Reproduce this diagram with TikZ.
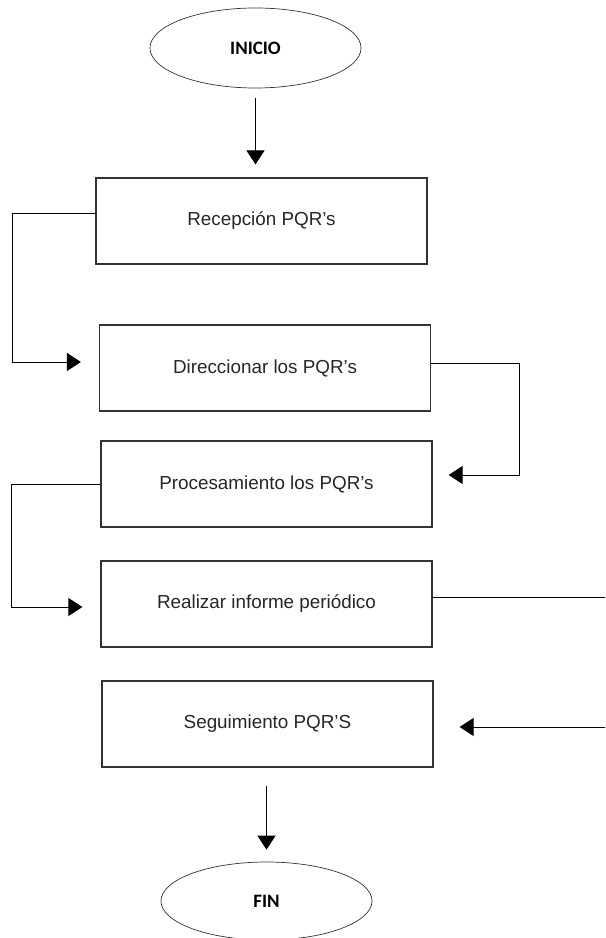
\documentclass[tikz,border=0pt]{standalone}
\usepackage{fontspec}
\setmainfont{Liberation Sans}
\newfontfamily\calfont{Carlito}
\usetikzlibrary{calc}
\usetikzlibrary{positioning}
\usetikzlibrary{shapes.geometric}
\usetikzlibrary {arrows.meta}

\begin{document}
\begin{tikzpicture}[
		x=0.025cm, y=-0.025cm,
		t/.style = {rectangle, draw=black!80, line width=0.8pt, minimum width=8.275cm, minimum height=2.15cm, text=black!85, font=\fontsize{13.4}{16}\selectfont},
		o/.style = {ellipse, draw=black!80, line width=0.5pt, minimum width=5.275cm, minimum height=2cm, font=\calfont\bfseries\fontsize{13.5}{16}\selectfont},
		r/.style = {-{Triangle[length=0.35cm, width=0.45cm]}, line width=0.7pt}
		]
		\path[use as bounding box, clip] (0,0) rectangle (605,938);

		%Nodes
		\node[o]	(ini)	at	(255.5, 48)	{INICIO};
		\node[t]	(1)	at	(261.5, 221)	{Recepción PQR’s};
		\node[t]	(2)	at	(265, 368)	{Direccionar los PQR’s};
		\node[t]	(3)	at	(266.5, 484)	{Procesamiento los PQR’s};
		\node[t]	(4)	at	(266.5, 604)	{Realizar informe periódico};
		\node[t]	(5)	at	(267.5, 724)	{Seguimiento PQR’S};
		\node[o, minimum height=1.95cm]	(fin)	at	(266.5, 901)	{FIN};

		%Lines
		\draw[r, shorten <=0.25cm, shorten >=0.325cm]	(ini.south)	--	(ini.south |- 1.north);
		\draw[r, shorten >=0.45cm]	([yshift=0.2cm]1.west)	--	++(-83,0)	|-	([yshift=0.15cm]2.west);
		\draw[r, shorten >=0.4cm]	([yshift=0.125cm]2.east)	--	++(88,0)	|-	([yshift=0.225cm]3.east);
		\draw[r, shorten >=0.45cm]	(3.west)	--	++(-89,0)	|-	([yshift=-0.075cm]4.west);
		\draw[r, shorten >=0.65cm]	([yshift=0.175cm]4.east)	--	++(190,0)	|-	([yshift=-0.075cm]5.east);
		\draw[r, shorten <=0.45cm, shorten >=0.3cm]	(fin.north |- 5.south)	--	(fin.north);
	\end{tikzpicture}
\end{document}
